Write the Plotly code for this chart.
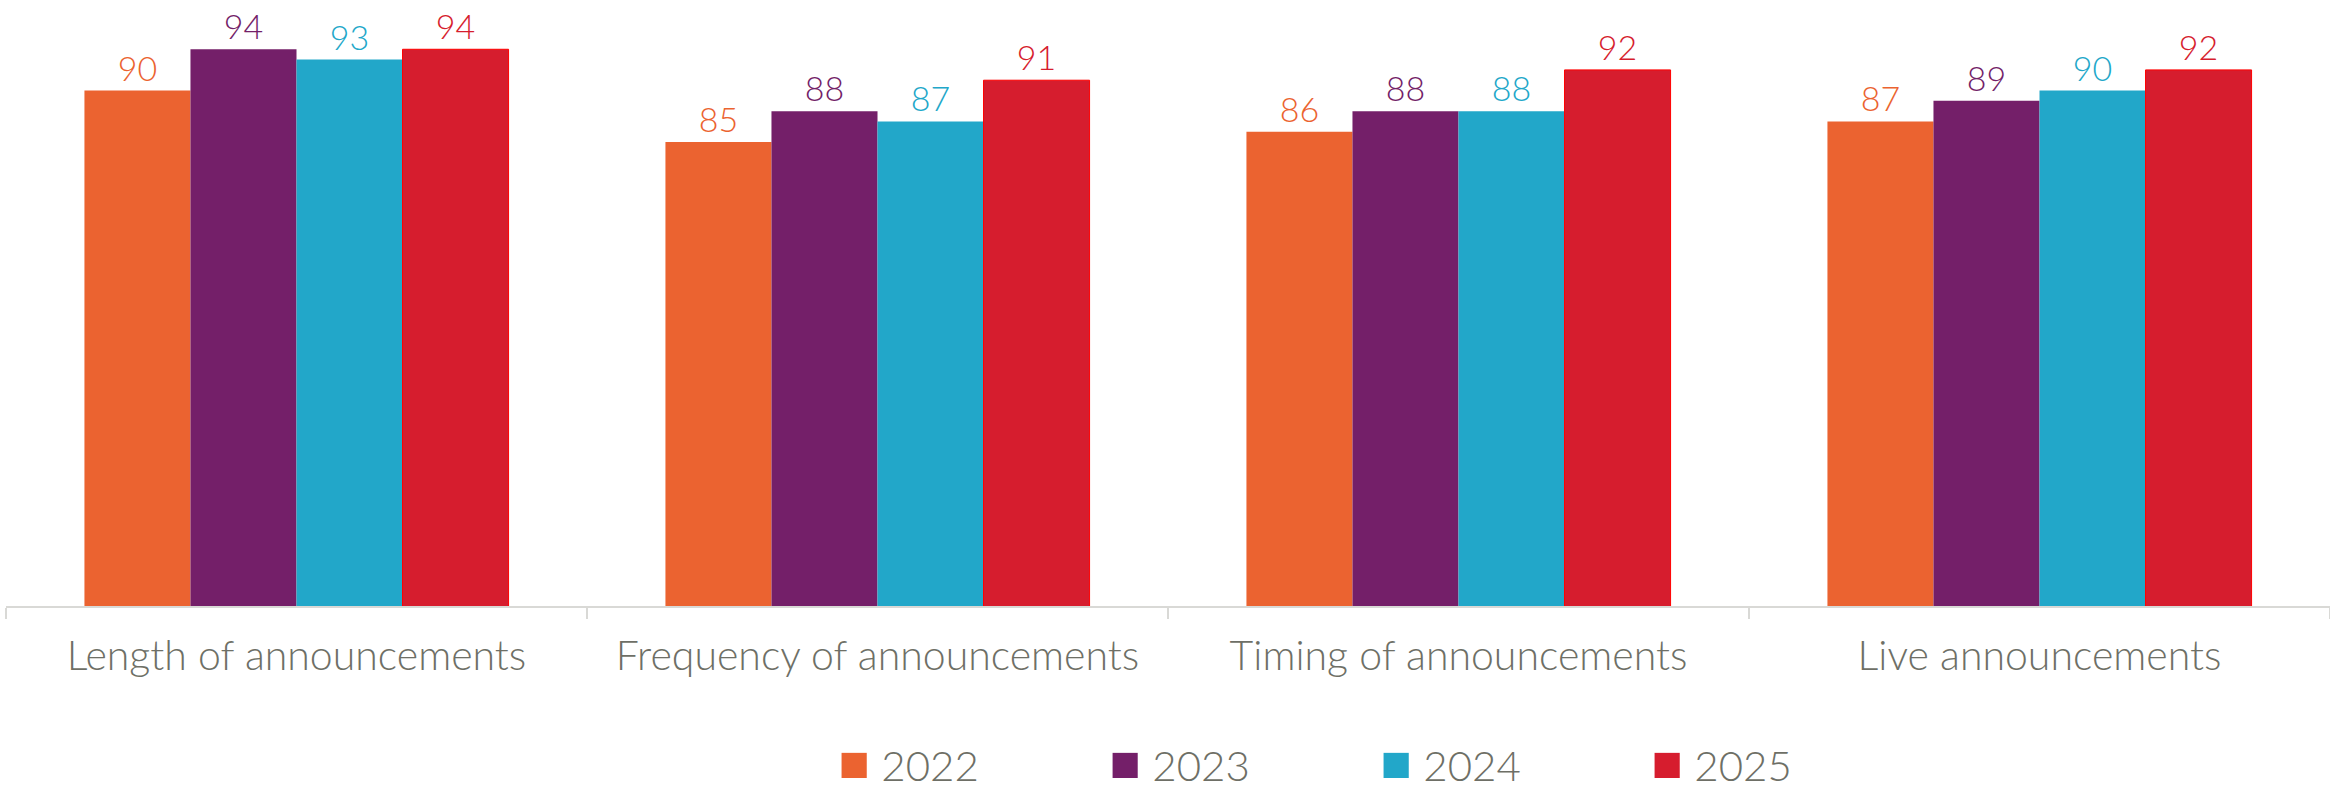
import plotly.graph_objects as go

categories = ["Length of announcements", "Frequency of announcements",
              "Timing of announcements", "Live announcements"]
years = ["2022", "2023", "2024", "2025"]
v2022 = [90, 85, 86, 87]
v2023 = [94, 88, 88, 89]
v2024 = [93, 87, 88, 90]
v2025 = [94, 91, 92, 92]
series = [v2022, v2023, v2024, v2025]
colors = ["#EB6330", "#741F69", "#22A7C9", "#D61D2E"]
outlines = ["#EB6330", "#741F69", "#22A7C9", "#FF0000"]

FONT = "Lato, 'Open Sans', sans-serif"
TEXT_GREY = "#6E6F66"

fig = go.Figure()
for yr, vals, col, oc in zip(years, series, colors, outlines):
    fig.add_trace(go.Bar(
        x=categories, y=vals, name=yr,
        marker=dict(color=col, line=dict(color=oc, width=1 if oc != col else 0)),
        text=[str(v) for v in vals], textposition="outside",
        textfont=dict(color=col, size=34, family=FONT, weight=300),
        cliponaxis=False, showlegend=False,
    ))
    # legend entry with a large square swatch
    fig.add_trace(go.Scatter(
        x=[None], y=[None], mode="markers",
        marker=dict(color="rgba(0,0,0,0)", size=1),
        name=f'<span style="color:{col};font-size:52px">■</span> {yr}',
        showlegend=True,
    ))

fig.update_layout(
    width=2330, height=801,
    margin=dict(l=6, r=0, t=0, b=195, autoexpand=False),
    paper_bgcolor="white", plot_bgcolor="white",
    barmode="group", bargap=0.27, bargroupgap=0,
    font=dict(family=FONT, color=TEXT_GREY, weight=300),
    uniformtext=dict(mode=False),
    xaxis=dict(
        showline=True, linecolor="#D9D9D6", linewidth=2,
        ticks="outside", tickson="boundaries", ticklen=11, tickwidth=2,
        tickcolor="#D9D9D6", showgrid=False, automargin=False,
        tickfont=dict(size=41, color=TEXT_GREY, family=FONT, weight=300),
        ticklabelstandoff=13,
    ),
    yaxis=dict(range=[40, 98.78], visible=False, showgrid=False, zeroline=False),
    legend=dict(
        orientation="h", x=0.341, xanchor="left", y=-0.318, yanchor="bottom",
        font=dict(size=42, color=TEXT_GREY, family=FONT, weight=300),
        entrywidth=226, entrywidthmode="pixels",
        itemclick=False, itemdoubleclick=False,
    ),
)

fig.write_html("out.html")
